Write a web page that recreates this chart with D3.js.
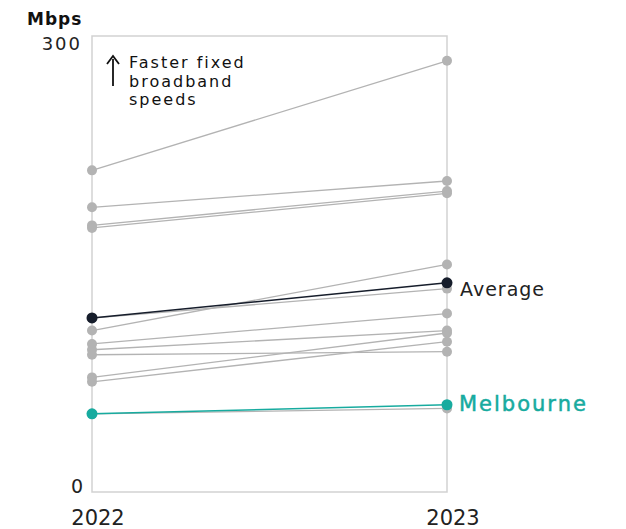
<!DOCTYPE html>
<html>
<head>
<meta charset="utf-8">
<script src="https://cdn.jsdelivr.net/npm/d3@7"></script>
<style>
  html, body { margin: 0; padding: 0; background: #fff; }
  svg { display: block; font-family: "DejaVu Sans", "Noto Sans", sans-serif; }
</style>
</head>
<body>
<svg id="chart" width="626" height="529"></svg>
<script>
// ---- data ----
const years = ["2022", "2023"];
const otherCities = ["City A","City B","City C","City D","City E","City F","City G","City H","City I","City J","City K","City L"];
const others2022 = [211.6, 187.3, 175.4, 173.7, 106.2, 114.4, 97.4, 93.6, 90.3, 75.4, 72.5, 51.4];
const others2023 = [283.7, 204.6, 198.0, 196.5, 149.7, 133.8, 117.4, 106.2, 92.3, 104.6, 98.9, 55.0];
const averageValues = [114.5, 137.6];
const melbourneValues = [51.4, 57.4];
const yTicks = [0, 300];
const yUnit = "Mbps";
const annotationLines = ["Faster fixed", "broadband", "speeds"];

// ---- layout ----
const svg = d3.select("#chart");
const mLeft = 92, mRight = 447, mTop = 36, mBottom = 492;
const x = d3.scalePoint().domain(years).range([mLeft, mRight]);
const y = d3.scaleLinear().domain([0, 300]).range([mBottom, mTop]);

const GRAY = "#b3b3b3", FRAME = "#d2d2d2", DARK = "#161d2b", TEAL = "#17ab9f", TEXT = "#222";

// frame
svg.append("rect")
  .attr("x", mLeft).attr("y", mTop)
  .attr("width", mRight - mLeft).attr("height", mBottom - mTop)
  .attr("fill", "none").attr("stroke", FRAME).attr("stroke-width", 1.5);

// y tick labels
svg.append("text").attr("x", 82).attr("y", y(300) + 14)
  .attr("text-anchor", "end").attr("font-size", 18).attr("letter-spacing", 2)
  .attr("fill", TEXT).text(String(yTicks[1]));
svg.append("text").attr("x", 83).attr("y", y(0) + 1)
  .attr("text-anchor", "end").attr("font-size", 19).attr("fill", TEXT).text(String(yTicks[0]));
svg.append("text").attr("x", 27).attr("y", 25)
  .attr("font-size", 17).attr("font-weight", 700).attr("letter-spacing", 1)
  .attr("fill", "#111").text(yUnit);

// x labels
years.forEach(yr => {
  svg.append("text").attr("x", x(yr) + 6).attr("y", 525)
    .attr("text-anchor", "middle").attr("font-size", 21).attr("fill", TEXT).text(yr);
});

// annotation
const ann = svg.append("g");
annotationLines.forEach((t, i) => {
  ann.append("text").attr("x", 129).attr("y", 68 + i * 18.7)
    .attr("font-size", 16).attr("letter-spacing", 2).attr("fill", "#111").text(t);
});
ann.append("line").attr("x1", 113).attr("x2", 113).attr("y1", 59).attr("y2", 86)
  .attr("stroke", "#111").attr("stroke-width", 1.8);
ann.append("path").attr("d", "M107,64 L113,56 L119,64")
  .attr("fill", "none").attr("stroke", "#111").attr("stroke-width", 1.8);

// series
const line = d3.line().x(d => x(d.year)).y(d => y(d.v));
function drawSeries(vals, color, r, sw) {
  const pts = years.map((yr, i) => ({ year: yr, v: vals[i] }));
  const g = svg.append("g");
  g.append("path").datum(pts).attr("d", line)
    .attr("fill", "none").attr("stroke", color).attr("stroke-width", sw);
  g.selectAll("circle").data(pts).join("circle")
    .attr("cx", d => x(d.year)).attr("cy", d => y(d.v)).attr("r", r).attr("fill", color);
}
otherCities.forEach((c, i) => drawSeries([others2022[i], others2023[i]], GRAY, 5, 1.3));
drawSeries(averageValues, DARK, 5.5, 1.5);
drawSeries(melbourneValues, TEAL, 5.5, 1.5);

// end labels
svg.append("text").attr("x", 460).attr("y", y(averageValues[1]) + 13)
  .attr("font-size", 19).attr("letter-spacing", 1).attr("fill", TEXT).text("Average");
svg.append("text").attr("x", 459).attr("y", y(melbourneValues[1]) + 6)
  .attr("font-size", 21).attr("letter-spacing", 2)
  .attr("fill", TEAL).attr("stroke", TEAL).attr("stroke-width", 0.5).text("Melbourne");
</script>
</body>
</html>
